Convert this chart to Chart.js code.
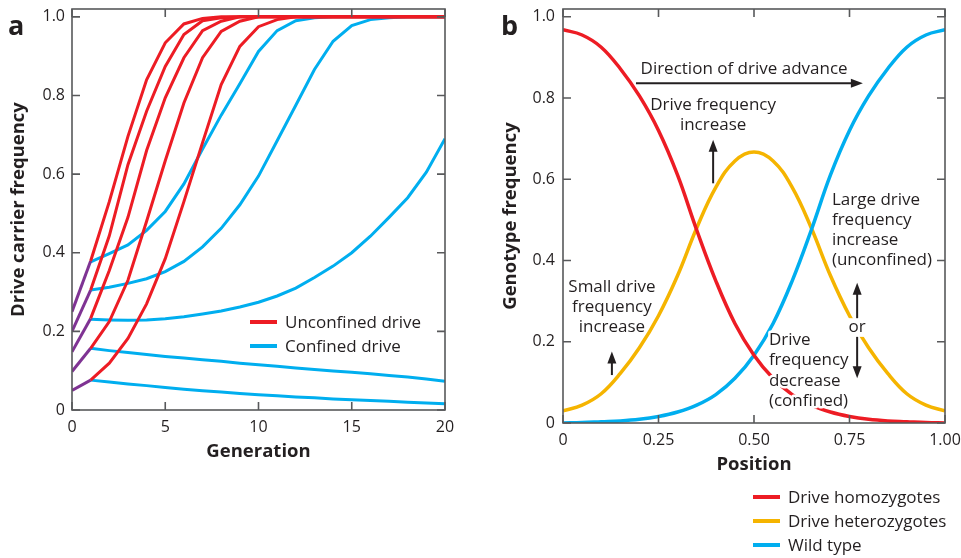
<!DOCTYPE html>
<html>
<head>
<meta charset="utf-8">
<script src="https://cdn.jsdelivr.net/npm/chart.js@4.4.0/dist/chart.umd.min.js"></script>
<style>
  html, body { margin: 0; padding: 0; background: #fff; }
  #wrap { position: relative; width: 961px; height: 558px; }
  #chartA { position: absolute; left: 0; top: 0; }
  #chartB { position: absolute; left: 480px; top: 0; }
</style>
</head>
<body>
<div id="wrap">
  <canvas id="chartA" width="480" height="558"></canvas>
  <canvas id="chartB" width="481" height="558"></canvas>
</div>
<script>
const FONT = '"Open Sans", "Noto Sans", sans-serif';
const INK = '#231f20';
const AXIS = '#58595b';
const RED = '#ed1c24';
const BLUE = '#00aeef';
const YELLOW = '#f5b400';
const PURPLE = '#7f3393';

// ---- panel a: drive carrier frequency by generation ----
const generations = [0, 1, 2, 3, 4, 5, 6, 7, 8, 9, 10, 11, 12, 13, 14, 15, 16, 17, 18, 19, 20];
const generationTicks = [0, 5, 10, 15, 20];
const freqTicks = [0, 0.2, 0.4, 0.6, 0.8, 1.0];
const freqTickLabels = ['0', '0.2', '0.4', '0.6', '0.8', '1.0'];

const unconfined1 = [0.05, 0.076, 0.119, 0.182, 0.27, 0.385, 0.53, 0.68, 0.828, 0.925, 0.975, 0.993, 1, 1, 1, 1, 1, 1, 1, 1, 1];
const unconfined2 = [0.098, 0.157, 0.225, 0.33, 0.48, 0.634, 0.781, 0.896, 0.963, 0.989, 1, 1, 1, 1, 1, 1, 1, 1, 1, 1, 1];
const unconfined3 = [0.148, 0.233, 0.355, 0.49, 0.66, 0.794, 0.896, 0.965, 0.989, 1, 1, 1, 1, 1, 1, 1, 1, 1, 1, 1, 1];
const unconfined4 = [0.2, 0.305, 0.443, 0.624, 0.76, 0.874, 0.955, 0.99, 0.998, 1, 1, 1, 1, 1, 1, 1, 1, 1, 1, 1, 1];
const unconfined5 = [0.25, 0.379, 0.53, 0.696, 0.84, 0.934, 0.982, 0.996, 1, 1, 1, 1, 1, 1, 1, 1, 1, 1, 1, 1, 1];

const confined1 = [null, 0.076, 0.071, 0.066, 0.062, 0.057, 0.053, 0.049, 0.046, 0.042, 0.039, 0.036, 0.033, 0.031, 0.028, 0.026, 0.024, 0.022, 0.020, 0.018, 0.016];
const confined2 = [null, 0.157, 0.151, 0.146, 0.141, 0.136, 0.132, 0.128, 0.124, 0.119, 0.115, 0.111, 0.107, 0.103, 0.099, 0.096, 0.092, 0.088, 0.084, 0.079, 0.073];
const confined3 = [null, 0.231, 0.229, 0.228, 0.229, 0.232, 0.237, 0.244, 0.252, 0.262, 0.274, 0.29, 0.31, 0.337, 0.366, 0.40, 0.442, 0.49, 0.54, 0.605, 0.69];
const confined4 = [null, 0.305, 0.312, 0.322, 0.334, 0.352, 0.378, 0.415, 0.462, 0.522, 0.595, 0.685, 0.775, 0.866, 0.938, 0.978, 0.993, 0.998, 1, 1, 1];
const confined5 = [null, 0.377, 0.398, 0.42, 0.457, 0.505, 0.575, 0.664, 0.75, 0.83, 0.912, 0.965, 0.99, 0.998, 1, 1, 1, 1, 1, 1, 1];

const legendA = ['Unconfined drive', 'Confined drive'];

// ---- panel b: genotype frequency by position ----
const positions = [0, 0.05, 0.1, 0.15, 0.2, 0.25, 0.3, 0.35, 0.4, 0.45, 0.5, 0.55, 0.6, 0.65, 0.7, 0.75, 0.8, 0.85, 0.9, 0.95, 1.0];
const positionTicks = [0, 0.25, 0.5, 0.75, 1.0];
const positionTickLabels = ['0', '0.25', '0.50', '0.75', '1.00'];

const homozygotes = [0.968, 0.955, 0.925, 0.872, 0.805, 0.72, 0.61, 0.475, 0.35, 0.245, 0.167, 0.11, 0.07, 0.044, 0.027, 0.016, 0.009, 0.005, 0.003, 0.001, 0.0];
const heterozygotes = [0.03, 0.044, 0.072, 0.122, 0.185, 0.264, 0.363, 0.48, 0.58, 0.645, 0.667, 0.645, 0.58, 0.48, 0.363, 0.264, 0.185, 0.122, 0.072, 0.044, 0.03];
const wildType = [0.0, 0.001, 0.003, 0.005, 0.009, 0.016, 0.027, 0.044, 0.07, 0.11, 0.167, 0.245, 0.35, 0.475, 0.61, 0.72, 0.805, 0.872, 0.925, 0.955, 0.968];

const legendB = ['Drive homozygotes', 'Drive heterozygotes', 'Wild type'];

function pts(xs, ys) {
  return xs.map((x, i) => ({x: x, y: ys[i]}));
}

function arrow(ctx, x1, y1, x2, y2) {
  const ang = Math.atan2(y2 - y1, x2 - x1);
  const head = 12, half = 4.5;
  ctx.save();
  ctx.strokeStyle = INK;
  ctx.fillStyle = INK;
  ctx.lineWidth = 2;
  ctx.beginPath();
  ctx.moveTo(x1, y1);
  ctx.lineTo(x2 - Math.cos(ang) * (head - 2), y2 - Math.sin(ang) * (head - 2));
  ctx.stroke();
  ctx.beginPath();
  ctx.moveTo(x2, y2);
  ctx.lineTo(x2 - Math.cos(ang) * head - Math.sin(ang) * half, y2 - Math.sin(ang) * head + Math.cos(ang) * half);
  ctx.lineTo(x2 - Math.cos(ang) * head + Math.sin(ang) * half, y2 - Math.sin(ang) * head - Math.cos(ang) * half);
  ctx.closePath();
  ctx.fill();
  ctx.restore();
}

// keep the plot area exactly where the layout padding puts it
function noScalePadding(s) {
  s.paddingTop = 0;
  s.paddingBottom = 0;
  s.paddingLeft = 0;
  s.paddingRight = 0;
}

// frame round the plot area, with ticks pointing inward on all four sides
const framePlugin = {
  id: 'frame',
  afterDatasetsDraw(chart) {
    const {ctx, chartArea: a, scales: {x, y}} = chart;
    ctx.save();
    ctx.strokeStyle = AXIS;
    ctx.lineWidth = 1.6;
    ctx.strokeRect(a.left, a.top, a.right - a.left, a.bottom - a.top);
    ctx.beginPath();
    for (const t of x.ticks) {
      const px = x.getPixelForValue(t.value);
      ctx.moveTo(px, a.bottom); ctx.lineTo(px, a.bottom - 8);
      ctx.moveTo(px, a.top); ctx.lineTo(px, a.top + 8);
    }
    for (const t of y.ticks) {
      const py = y.getPixelForValue(t.value);
      ctx.moveTo(a.left, py); ctx.lineTo(a.left + 8, py);
      ctx.moveTo(a.right, py); ctx.lineTo(a.right - 8, py);
    }
    ctx.stroke();
    ctx.restore();
  }
};

function lineLegend(ctx, labels, colors, x, y0, step) {
  ctx.save();
  ctx.font = '17px ' + FONT;
  ctx.textBaseline = 'middle';
  ctx.fillStyle = INK;
  labels.forEach((label, i) => {
    const y = y0 + i * step;
    ctx.strokeStyle = colors[i];
    ctx.lineWidth = 4;
    ctx.beginPath();
    ctx.moveTo(x, y); ctx.lineTo(x + 27, y);
    ctx.stroke();
    ctx.fillText(label, x + 35, y + 1);
  });
  ctx.restore();
}

function panelLetter(ctx, letter, x, y) {
  ctx.save();
  ctx.font = 'bold 27px ' + FONT;
  ctx.fillStyle = INK;
  ctx.textBaseline = 'alphabetic';
  ctx.fillText(letter, x, y);
  ctx.restore();
}

const decorA = {
  id: 'decorA',
  afterDraw(chart) {
    const ctx = chart.ctx;
    panelLetter(ctx, 'a', 8, 35);
    lineLegend(ctx, legendA, [RED, BLUE], 250, 322, 24);
  }
};

function textLines(ctx, lines, x, y, step, align, halo) {
  ctx.save();
  ctx.font = '17px ' + FONT;
  ctx.textAlign = align;
  ctx.textBaseline = 'middle';
  lines.forEach((s, i) => {
    if (halo) {
      ctx.strokeStyle = '#fff';
      ctx.lineWidth = 5;
      ctx.lineJoin = 'round';
      ctx.strokeText(s, x, y + i * step);
    }
    ctx.fillStyle = INK;
    ctx.fillText(s, x, y + i * step);
  });
  ctx.restore();
}

const decorB = {
  id: 'decorB',
  afterDraw(chart) {
    const {ctx, scales: {x, y}} = chart;
    const X = v => x.getPixelForValue(v);
    const Y = v => y.getPixelForValue(v);
    panelLetter(ctx, 'b', 21, 35);

    textLines(ctx, ['Direction of drive advance'], X(0.474), Y(0.872), 20, 'center', false);
    arrow(ctx, X(0.191), Y(0.836), X(0.785), Y(0.836));

    textLines(ctx, ['Drive frequency', 'increase'], X(0.393), Y(0.782), 19.5, 'center', false);
    arrow(ctx, X(0.393), Y(0.59), X(0.393), Y(0.697));

    textLines(ctx, ['Large drive', 'frequency', 'increase', '(unconfined)'], X(0.704), Y(0.549), 20, 'left', false);

    textLines(ctx, ['Small drive', 'frequency', 'increase'], X(0.128), Y(0.335), 20.3, 'center', false);
    arrow(ctx, X(0.128), Y(0.118), X(0.128), Y(0.176));

    textLines(ctx, ['Drive', 'frequency', 'decrease', '(confined)'], X(0.539), Y(0.204), 20.3, 'left', true);

    ctx.save();
    ctx.fillStyle = '#fff';
    ctx.fillRect(X(0.77) - 10, Y(0.258), 20, Y(0.212) - Y(0.258));
    ctx.restore();
    textLines(ctx, ['or'], X(0.77), Y(0.236), 20, 'center', false);
    arrow(ctx, X(0.77), Y(0.258), X(0.77), Y(0.345));
    arrow(ctx, X(0.77), Y(0.212), X(0.77), Y(0.11));

    lineLegend(ctx, legendB, [RED, YELLOW, BLUE], 273, 497, 24);
  }
};

const tickFont = {family: FONT, size: 16};
const titleFont = {family: FONT, size: 18.5, weight: 'bold'};

function redSet(data) {
  return {
    data: pts(generations, data),
    borderColor: RED,
    borderWidth: 3,
    pointRadius: 0,
    tension: 0,
    segment: {borderColor: c => c.p0DataIndex === 0 ? PURPLE : undefined}
  };
}

function blueSet(data) {
  return {
    data: pts(generations, data),
    borderColor: BLUE,
    borderWidth: 3,
    pointRadius: 0,
    tension: 0
  };
}

new Chart(document.getElementById('chartA'), {
  type: 'line',
  data: {
    datasets: [
      redSet(unconfined1), redSet(unconfined2), redSet(unconfined3), redSet(unconfined4), redSet(unconfined5),
      blueSet(confined1), blueSet(confined2), blueSet(confined3), blueSet(confined4), blueSet(confined5)
    ]
  },
  options: {
    responsive: false,
    animation: false,
    events: [],
    layout: {padding: {left: 0, top: 9, right: 35, bottom: 0}},
    plugins: {legend: {display: false}, tooltip: {enabled: false}},
    scales: {
      x: {
        type: 'linear', min: 0, max: 20, bounds: 'data',
        afterBuildTicks: s => { s.ticks = generationTicks.map(v => ({value: v})); },
        afterFit: s => { s.height = 148; noScalePadding(s); },
        grid: {display: false, drawTicks: false},
        border: {display: false},
        ticks: {font: tickFont, color: INK, padding: 8, maxRotation: 0, callback: v => String(v)},
        title: {display: true, text: 'Generation', font: titleFont, color: INK, padding: {top: 0, bottom: 95}}
      },
      y: {
        type: 'linear', min: 0, max: 1.02, bounds: 'data',
        afterBuildTicks: s => { s.ticks = freqTicks.map(v => ({value: v})); },
        afterFit: s => { s.width = 72; noScalePadding(s); },
        grid: {display: false, drawTicks: false},
        border: {display: false},
        ticks: {font: tickFont, color: INK, padding: 7, callback: (v, i) => freqTickLabels[i]},
        title: {display: true, text: 'Drive carrier frequency', font: titleFont, color: INK, padding: {top: 8, bottom: 0}}
      }
    }
  },
  plugins: [framePlugin, decorA]
});

function smoothSet(data, color) {
  return {
    data: pts(positions, data),
    borderColor: color,
    borderWidth: 3.5,
    pointRadius: 0,
    tension: 0.4
  };
}

new Chart(document.getElementById('chartB'), {
  type: 'line',
  data: {
    datasets: [
      smoothSet(homozygotes, RED),
      smoothSet(wildType, BLUE),
      smoothSet(heterozygotes, YELLOW)
    ]
  },
  options: {
    responsive: false,
    animation: false,
    events: [],
    layout: {padding: {left: 0, top: 9, right: 16, bottom: 0}},
    plugins: {legend: {display: false}, tooltip: {enabled: false}},
    scales: {
      x: {
        type: 'linear', min: 0, max: 1, bounds: 'data',
        afterBuildTicks: s => { s.ticks = positionTicks.map(v => ({value: v})); },
        afterFit: s => { s.height = 135; noScalePadding(s); },
        grid: {display: false, drawTicks: false},
        border: {display: false},
        ticks: {font: tickFont, color: INK, padding: 8, maxRotation: 0, callback: (v, i) => positionTickLabels[i]},
        title: {display: true, text: 'Position', font: titleFont, color: INK, padding: {top: 0, bottom: 82}}
      },
      y: {
        type: 'linear', min: 0, max: 1.019, bounds: 'data',
        afterBuildTicks: s => { s.ticks = freqTicks.map(v => ({value: v})); },
        afterFit: s => { s.width = 83; noScalePadding(s); },
        grid: {display: false, drawTicks: false},
        border: {display: false},
        ticks: {font: tickFont, color: INK, padding: 8, callback: (v, i) => freqTickLabels[i]},
        title: {display: true, text: 'Genotype frequency', font: titleFont, color: INK, padding: {top: 20, bottom: 0}}
      }
    }
  },
  plugins: [framePlugin, decorB]
});
</script>
</body>
</html>
